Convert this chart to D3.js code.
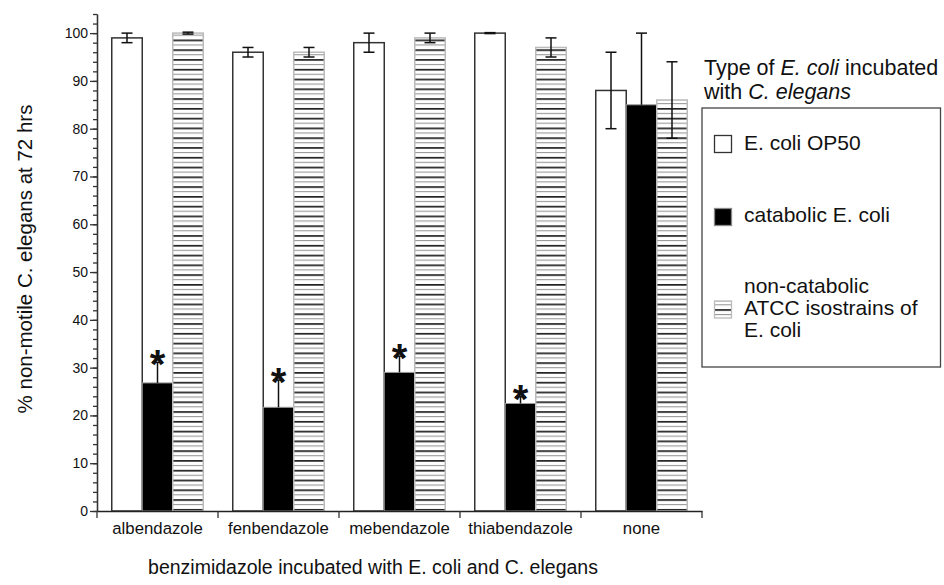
<!DOCTYPE html>
<html>
<head>
<meta charset="utf-8">
<script src="https://cdn.jsdelivr.net/npm/d3@7"></script>
<style>
  body { margin: 0; background: #fff; }
  text { font-family: "Liberation Sans", Arial, Helvetica, sans-serif; fill: #111; }
</style>
</head>
<body>
<script>
// data
var categories = ["albendazole", "fenbendazole", "mebendazole", "thiabendazole", "none"];
var seriesKeys = ["op50", "catabolic", "noncatabolic"];
var op50 = [99, 96, 98, 100, 88];
var op50Err = [1, 1, 2, 0.1, 8];
var catabolic = [26.8, 21.7, 29, 22.5, 85];
var catabolicErr = [4.3, 5.7, 3.4, 1.4, 15];
var noncatabolic = [100, 96, 99, 97, 86];
var noncatabolicErr = [0.2, 1, 1, 2, 8];
var significant = [true, true, true, true, false];
var yMajorTicks = [0, 10, 20, 30, 40, 50, 60, 70, 80, 90, 100];

// set the dimensions and margins of the graph
var margin = {top: 14, left: 97},
    width = 605,
    height = 497;

var svg = d3.select("body")
  .append("svg")
    .attr("width", 944)
    .attr("height", 585);

var defs = svg.append("defs");

// horizontal hatch: dark line and a light grey line in between
var hatch = defs.append("pattern")
    .attr("id", "hatch")
    .attr("patternUnits", "userSpaceOnUse")
    .attr("x", 0)
    .attr("y", 5.95)
    .attr("width", 20)
    .attr("height", 9.78);
hatch.append("rect").attr("width", 20).attr("height", 9.78).attr("fill", "#fff");
hatch.append("rect").attr("y", 0).attr("width", 20).attr("height", 1.7).attr("fill", "#222");
hatch.append("rect").attr("y", 4.9).attr("width", 20).attr("height", 1.1).attr("fill", "#999");

var g = svg.append("g")
    .attr("transform", "translate(" + margin.left + "," + margin.top + ")");

// scales
var x0 = d3.scaleBand()
  .domain(categories)
  .range([0, width]);

var x1 = d3.scaleBand()
  .domain(seriesKeys)
  .range([14.75, x0.bandwidth() - 14.75]);

var y = d3.scaleLinear()
  .domain([0, 104])
  .range([height, 0]);

var styles = {
  op50: {fill: "#fff", stroke: "#333", sw: 1.5},
  catabolic: {fill: "#000", stroke: "#999", sw: 1},
  noncatabolic: {fill: "url(#hatch)", stroke: "#bbb", sw: 1.5}
};

var rows = categories.map(function(c, i) {
  return [
    {cat: c, key: "op50", value: op50[i], err: op50Err[i]},
    {cat: c, key: "catabolic", value: catabolic[i], err: catabolicErr[i]},
    {cat: c, key: "noncatabolic", value: noncatabolic[i], err: noncatabolicErr[i]}
  ];
});

// bars
var groups = g.selectAll(".grp")
  .data(rows)
  .enter()
  .append("g")
    .attr("class", "grp")
    .attr("transform", function(d, i) { return "translate(" + x0(categories[i]) + ",0)"; });

groups.selectAll("rect")
  .data(function(d) { return d; })
  .enter()
  .append("rect")
    .attr("x", function(d) { return x1(d.key); })
    .attr("y", function(d) { return y(d.value); })
    .attr("width", x1.bandwidth())
    .attr("height", function(d) { return height - y(d.value); })
    .attr("fill", function(d) { return styles[d.key].fill; })
    .attr("stroke", function(d) { return styles[d.key].stroke; })
    .attr("stroke-width", function(d) { return styles[d.key].sw; });

// error bars (the lower half of the black bars is hidden in the bar)
var capW = 5.5;
var lowEnd = function(d) { return d.key == "catabolic" ? d.value : d.value - d.err; };
var err = groups.selectAll(".err")
  .data(function(d) { return d; })
  .enter()
  .append("g")
    .attr("class", "err")
    .attr("stroke", "#111")
    .attr("stroke-width", 1.5);
err.append("line")
    .attr("x1", function(d) { return x1(d.key) + x1.bandwidth() / 2; })
    .attr("x2", function(d) { return x1(d.key) + x1.bandwidth() / 2; })
    .attr("y1", function(d) { return y(d.value + d.err); })
    .attr("y2", function(d) { return y(lowEnd(d)); });
err.append("line")
    .attr("x1", function(d) { return x1(d.key) + x1.bandwidth() / 2 - capW; })
    .attr("x2", function(d) { return x1(d.key) + x1.bandwidth() / 2 + capW; })
    .attr("y1", function(d) { return y(d.value + d.err); })
    .attr("y2", function(d) { return y(d.value + d.err); });
err.filter(function(d) { return d.key != "catabolic"; })
  .append("line")
    .attr("x1", function(d) { return x1(d.key) + x1.bandwidth() / 2 - capW; })
    .attr("x2", function(d) { return x1(d.key) + x1.bandwidth() / 2 + capW; })
    .attr("y1", function(d) { return y(d.value - d.err); })
    .attr("y2", function(d) { return y(d.value - d.err); });

// significance stars above catabolic bars
g.selectAll(".star")
  .data(categories.filter(function(c, i) { return significant[i]; }))
  .enter()
  .append("text")
    .attr("class", "star")
    .attr("x", function(c) { return x0(c) + x1("catabolic") + x1.bandwidth() / 2; })
    .attr("y", function(c) {
      var i = categories.indexOf(c);
      return y(catabolic[i] + catabolicErr[i]) + 16;
    })
    .attr("text-anchor", "middle")
    .style("font-size", "40px")
    .style("font-weight", "bold")
    .text("*");

// Y axis: minor ticks every 2, major every 10
g.append("g")
  .call(d3.axisLeft(y).tickValues(d3.range(0, 105, 2)).tickSize(4).tickSizeOuter(0).tickFormat(""))
  .call(function(a) { a.selectAll("line,path").attr("stroke", "#333").attr("stroke-width", 1.3); });

g.append("g")
  .call(d3.axisLeft(y).tickValues(yMajorTicks).tickSize(7).tickPadding(2).tickSizeOuter(0))
  .call(function(a) {
    a.selectAll("line,path").attr("stroke", "#333").attr("stroke-width", 1.3);
    a.selectAll("text").style("font-size", "14px").attr("fill", "#111");
  });

// X axis: labels at band centres, ticks on the boundaries
g.append("g")
  .attr("transform", "translate(0," + height + ")")
  .call(d3.axisBottom(x0).tickSize(0).tickPadding(11).tickSizeOuter(0))
  .call(function(a) {
    a.select(".domain").attr("stroke", "#222").attr("stroke-width", 1.5);
    a.selectAll("text").style("font-size", "16.8px").attr("fill", "#111");
  });

g.selectAll(".bound")
  .data(categories.map(function(c) { return x0(c); }).concat([width]))
  .enter()
  .append("line")
    .attr("class", "bound")
    .attr("x1", function(d) { return d; })
    .attr("x2", function(d) { return d; })
    .attr("y1", height)
    .attr("y2", height + 7)
    .attr("stroke", "#333")
    .attr("stroke-width", 1.3);

// labels and title
svg.append("text")
    .attr("text-anchor", "middle")
    .attr("transform", "translate(32,259)rotate(-90)")
    .style("font-size", "20.5px")
    .text("% non-motile C. elegans at 72 hrs");

svg.append("text")
    .attr("text-anchor", "middle")
    .attr("x", 373)
    .attr("y", 574)
    .style("font-size", "19.5px")
    .text("benzimidazole incubated with E. coli and C. elegans");

// legend
var lt = svg.append("text").attr("x", 704).attr("y", 75).style("font-size", "21.5px");
lt.append("tspan").text("Type of ");
lt.append("tspan").style("font-style", "italic").text("E. coli");
lt.append("tspan").text(" incubated");
var lt2 = svg.append("text").attr("x", 704).attr("y", 99).style("font-size", "21.5px");
lt2.append("tspan").text("with ");
lt2.append("tspan").style("font-style", "italic").text("C. elegans");

svg.append("rect")
    .attr("x", 702).attr("y", 108)
    .attr("width", 238.5).attr("height", 259)
    .attr("fill", "none")
    .attr("stroke", "#444")
    .attr("stroke-width", 1.3);

var legendItems = [
  {key: "op50", lines: ["E. coli OP50"], sy: 135.5, ty: [149.5]},
  {key: "catabolic", lines: ["catabolic E. coli"], sy: 208.5, ty: [221.7]},
  {key: "noncatabolic", lines: ["non-catabolic", "ATCC isostrains of", "E. coli"], sy: 301, ty: [293.3, 315.3, 337.3]}
];

legendItems.forEach(function(it) {
  svg.append("rect")
      .attr("x", 714.5).attr("y", it.sy)
      .attr("width", 17).attr("height", 17)
      .attr("fill", styles[it.key].fill)
      .attr("stroke", it.key == "catabolic" ? "#888" : styles[it.key].stroke)
      .attr("stroke-width", 1.3);
  it.lines.forEach(function(l, j) {
    svg.append("text")
        .attr("x", 744)
        .attr("y", it.ty[j])
        .style("font-size", "21px")
        .text(l);
  });
});
</script>
</body>
</html>
